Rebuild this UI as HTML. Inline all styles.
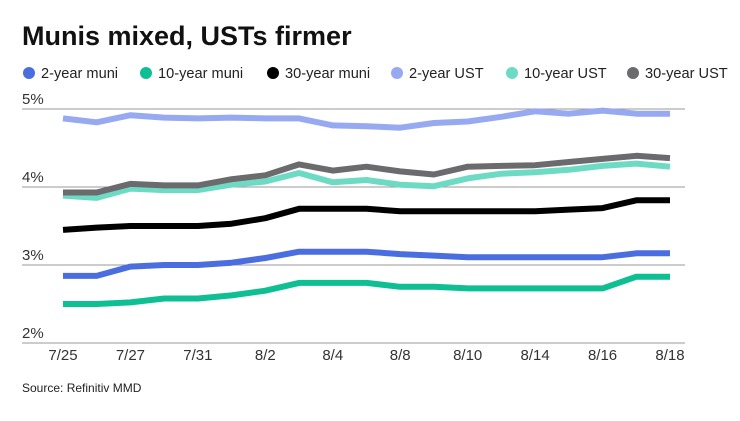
<!DOCTYPE html>
<html><head><meta charset="utf-8"><style>
body{margin:0;background:#fff;width:740px;height:416px;overflow:hidden;font-family:"Liberation Sans",sans-serif}
</style></head><body>
<svg id="s" width="740" height="416" xmlns="http://www.w3.org/2000/svg" font-family="Liberation Sans, sans-serif">
<text x="22" y="45" font-size="27" font-weight="bold" fill="#111">Munis mixed, USTs firmer</text>
<g font-size="14.6" fill="#222">
<circle cx="29" cy="73" r="6" fill="#4a6ee0"/><text x="41" y="78">2-year muni</text>
<circle cx="146" cy="73" r="6" fill="#0fbf94"/><text x="158" y="78">10-year muni</text>
<circle cx="273" cy="73" r="6" fill="#000"/><text x="285" y="78">30-year muni</text>
<circle cx="397" cy="73" r="6" fill="#97a9f1"/><text x="409" y="78">2-year UST</text>
<circle cx="512" cy="73" r="6" fill="#6ddbc4"/><text x="524" y="78">10-year UST</text>
<circle cx="633" cy="73" r="6" fill="#6b6b6d"/><text x="645" y="78">30-year UST</text>
</g>
<g stroke="#999" stroke-width="1">
<line x1="22" x2="685" y1="109" y2="109"/><line x1="22" x2="685" y1="187" y2="187"/>
<line x1="22" x2="685" y1="265" y2="265"/><line x1="22" x2="685" y1="343" y2="343"/>
</g>
<g font-size="15" fill="#333">
<text x="22" y="104">5%</text><text x="22" y="182">4%</text><text x="22" y="260">3%</text><text x="22" y="338">2%</text>
</g>
<g font-size="15" fill="#333" text-anchor="middle" id="xl"></g>
<g id="lines" fill="none" stroke-width="6" stroke-linejoin="round"></g>
<text x="22" y="392" font-size="12" fill="#222">Source: Refinitiv MMD</text>
</svg>
<script>
var ns="http://www.w3.org/2000/svg";
function X(i){return 63+i*607/18}
function Y(v){return 343-(v-2)*78}
var S=[
["#97a9f1",[4.88,4.83,4.92,4.89,4.88,4.89,4.88,4.88,4.79,4.78,4.76,4.82,4.84,4.9,4.97,4.94,4.98,4.94,4.94]],
["#6ddbc4",[3.89,3.86,3.98,3.96,3.96,4.03,4.07,4.18,4.06,4.09,4.03,4.01,4.11,4.17,4.19,4.22,4.27,4.3,4.26]],
["#6b6b6d",[3.93,3.93,4.04,4.02,4.02,4.1,4.15,4.29,4.21,4.26,4.2,4.16,4.26,4.27,4.28,4.32,4.36,4.4,4.37]],
["#000",[3.45,3.48,3.5,3.5,3.5,3.53,3.6,3.72,3.72,3.72,3.69,3.69,3.69,3.69,3.69,3.71,3.73,3.83,3.83]],
["#4a6ee0",[2.86,2.86,2.98,3.0,3.0,3.03,3.09,3.17,3.17,3.17,3.14,3.12,3.1,3.1,3.1,3.1,3.1,3.15,3.15]],
["#0fbf94",[2.5,2.5,2.52,2.57,2.57,2.61,2.67,2.77,2.77,2.77,2.72,2.72,2.7,2.7,2.7,2.7,2.7,2.85,2.85]]];
var g=document.getElementById("lines");
S.forEach(function(s){var p=document.createElementNS(ns,"polyline");
p.setAttribute("points",s[1].map(function(v,i){return X(i).toFixed(1)+","+Y(v).toFixed(1)}).join(" "));
p.setAttribute("stroke",s[0]);g.appendChild(p);});
var L=["7/25","7/27","7/31","8/2","8/4","8/8","8/10","8/14","8/16","8/18"];
var xl=document.getElementById("xl");
L.forEach(function(t,k){var e=document.createElementNS(ns,"text");e.setAttribute("x",X(k*2));e.setAttribute("y",360);e.textContent=t;xl.appendChild(e);});
</script>
</body></html>
